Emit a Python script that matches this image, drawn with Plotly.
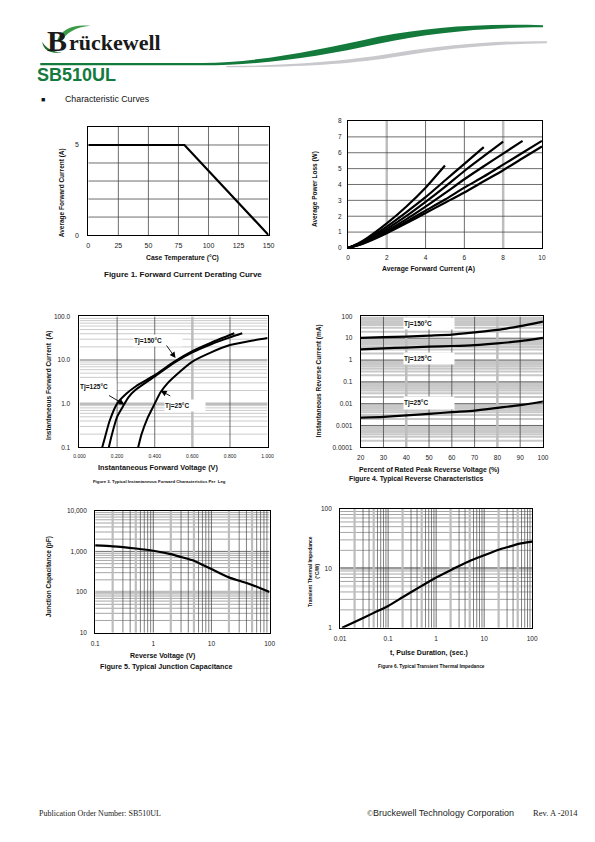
import plotly.graph_objects as go

W, H = 595, 842
SANS = "Liberation Sans, Arial, sans-serif"
SERIF = "Liberation Serif, Times New Roman, serif"

# ---------------- data ----------------
# Figure 1: derating
case_temp = [0, 80, 150]
avg_current = [5, 5, 0]

# Figure 2: power loss (6 curves)
pl_a_x = [0, 0.5, 1, 2, 3, 4, 5]
pl_a_y = [0, 0.27, 0.64, 1.55, 2.6, 3.8, 5.2]
pl_b_x = [0, 0.5, 1, 2, 3, 4, 5, 6, 7]
pl_b_y = [0, 0.24, 0.56, 1.35, 2.25, 3.2, 4.25, 5.3, 6.35]
pl_c_x = [0, 0.5, 1, 2, 3, 4, 5, 6, 7, 8]
pl_c_y = [0, 0.21, 0.5, 1.2, 2.0, 2.9, 3.85, 4.85, 5.78, 6.7]
pl_d_x = [0, 0.5, 1, 2, 3, 4, 5, 6, 7, 8, 9]
pl_d_y = [0, 0.19, 0.45, 1.08, 1.8, 2.6, 3.45, 4.33, 5.15, 5.95, 6.75]
pl_e_x = [0, 0.5, 1, 2, 3, 4, 5, 6, 7, 8, 9, 10]
pl_e_y = [0, 0.175, 0.41, 1.0, 1.65, 2.35, 3.05, 3.8, 4.5, 5.25, 6.0, 6.75]
pl_f_x = [0, 0.5, 1, 2, 3, 4, 5, 6, 7, 8, 9, 10]
pl_f_y = [0, 0.16, 0.38, 0.93, 1.55, 2.2, 2.85, 3.5, 4.2, 4.9, 5.65, 6.4]

# Figure 3: forward characteristics
vf_150 = [0.121, 0.14, 0.16, 0.2, 0.25, 0.3, 0.4, 0.5, 0.6, 0.7, 0.823]
if_150 = [0.1, 0.2, 0.4, 1.0, 1.7, 2.5, 4.5, 9, 16, 25, 41]
vf_125 = [0.156, 0.17, 0.2, 0.23, 0.26, 0.3, 0.4, 0.5, 0.6, 0.7, 0.8, 0.865]
if_125 = [0.1, 0.18, 0.5, 0.85, 1.4, 2.1, 4.2, 8.5, 15, 23, 33, 41]
vf_25 = [0.312, 0.33, 0.36, 0.4, 0.43, 0.47, 0.52, 0.6, 0.7, 0.8, 0.9, 1.0]
if_25 = [0.1, 0.2, 0.45, 1.0, 1.8, 3.0, 4.8, 9.2, 15, 22, 27, 32]

# Figure 4: reverse characteristics
pct_vr = [20, 30, 40, 50, 60, 70, 80, 90, 100]
ir_150 = [10.3, 11.1, 11.9, 13.2, 14.6, 18.5, 24, 36, 58]
ir_125 = [3.1, 3.45, 3.7, 4.1, 4.4, 4.85, 5.8, 7.3, 10.3]
ir_25 = [0.0023, 0.0025, 0.0029, 0.0034, 0.0041, 0.0048, 0.0064, 0.0085, 0.0126]

# Figure 5: junction capacitance
vr_cap = [0.1, 0.2, 0.3, 0.5, 1, 2, 3, 5, 7, 10, 20, 30, 50, 100]
cj_pf = [1400, 1330, 1270, 1180, 1040, 860, 730, 590, 470, 370, 230, 190, 150, 100]

# Figure 6: transient thermal impedance
t_pulse = [0.011, 0.02, 0.05, 0.1, 0.2, 0.5, 1, 2, 3, 5, 10, 20, 30, 50, 100]
z_th = [1.0, 1.25, 1.78, 2.33, 3.26, 5.06, 7.0, 9.3, 10.9, 13.2, 16.5, 20.5, 22.5, 25.5, 28]

# tick labels
f1_xt = [0, 25, 50, 75, 100, 125, 150]
f1_yt = ['0', '', '', '', '', '5', '']
f2_xt = [0, 2, 4, 6, 8, 10]
f2_yt = [0, 1, 2, 3, 4, 5, 6, 7, 8]
f3_xt = [0, 0.2, 0.4, 0.6, 0.8, 1.0]
f3_yv = [0.1, 1, 10, 100]
f3_yl = ['0.1', '1.0', '10.0', '100.0']
f4_xt = [20, 30, 40, 50, 60, 70, 80, 90, 100]
f4_yv = [0.0001, 0.001, 0.01, 0.1, 1, 10, 100]
f4_yl = ['0.0001', '0.001', '0.01', '0.1', '1', '10', '100']
f5_xv = [0.1, 1, 10, 100]
f5_xl = ['0.1', '1', '10', '100']
f5_yv = [10, 100, 1000, 10000]
f5_yl = ['10', '100', '1,000', '10,000']
f6_xv = [0.01, 0.1, 1, 10, 100]
f6_xl = ['0.01', '0.1', '1', '10', '100']
f6_yv = [1, 10, 100]
f6_yl = ['1', '10', '100']

# ---------------- helpers ----------------
DARK = '#4a4a4a'
GRAYT = '#bdbdbd'
MINOR = '#a8a8a8'


def dom_x(a, b):
    return [a / W, b / W]


def dom_y(top, bot):
    return [1 - bot / H, 1 - top / H]


def axis(dom, rng, typ='linear', vals=None, text=None, fs=7, standoff=3, anchor=None):
    d = dict(domain=dom, range=rng, type=typ, showgrid=False, zeroline=False,
             showline=True, mirror=True, linecolor='black', linewidth=1, ticks='',
             tickfont=dict(family=SANS, size=fs, color='#222'), anchor=anchor,
             fixedrange=True, ticklabelstandoff=standoff)
    if vals is not None:
        d['tickmode'] = 'array'
        d['tickvals'] = vals
        d['ticktext'] = text if text is not None else [str(v) for v in vals]
    return d


traces = []


def gl(axn, pos, lo, hi, color, width, vertical=True):
    X, Y = [], []
    for v in pos:
        if vertical:
            X += [v, v, None]
            Y += [lo, hi, None]
        else:
            X += [lo, hi, None]
            Y += [v, v, None]
    traces.append(go.Scatter(x=X, y=Y, mode='lines', line=dict(color=color, width=width),
                             xaxis='x' + axn, yaxis='y' + axn, hoverinfo='skip',
                             showlegend=False))


def curve(axn, x, y, w=2.2, spline=True):
    traces.append(go.Scatter(x=x, y=y, mode='lines',
                             line=dict(color='black', width=w,
                                       shape='spline' if spline else 'linear', smoothing=0.6),
                             xaxis='x' + axn, yaxis='y' + axn, hoverinfo='skip',
                             showlegend=False))


def minors(decades, ks=range(2, 10)):
    return [k * d for d in decades for k in ks]


# ---------------- gridlines ----------------
# Fig 1
gl('', [25, 50, 75, 100, 125], 0, 6, DARK, 0.8)
gl('', [1, 2, 3, 4, 5], 0, 150, DARK, 0.8, vertical=False)
# Fig 2
gl('2', [4, 6], 0, 8, DARK, 0.8)
gl('2', [2, 8], 0, 8, GRAYT, 2.5)
gl('2', [1, 2, 3, 4, 5, 6, 7], 0, 10, DARK, 0.8, vertical=False)
# Fig 3
gl('3', minors([0.1, 1, 10]), 0, 1, MINOR, 0.6, vertical=False)
gl('3', [10], 0, 1, DARK, 0.8, vertical=False)
gl('3', [1], 0, 1, GRAYT, 2.5, vertical=False)
gl('3', [0.2, 0.4, 0.8], 0.1, 100, DARK, 0.8)
gl('3', [0.6], 0.1, 100, GRAYT, 2.5)
# Fig 4
gl('4', minors([0.0001, 0.001, 0.01, 0.1, 1, 10]), 20, 100, '#c8c8c8', 2.0, vertical=False)
gl('4', [0.001, 0.01, 0.1, 1, 10], 20, 100, DARK, 0.8, vertical=False)
gl('4', [30, 50, 60, 70, 90], 0.0001, 100, DARK, 0.8)
gl('4', [40, 80], 0.0001, 100, GRAYT, 2.5)
# Fig 5
gl('5', minors([10, 100, 1000]), 0.1, 100, '#6a6a6a', 0.6, vertical=False)
gl('5', [1000], 0.1, 100, DARK, 0.8, vertical=False)
gl('5', [100], 0.1, 100, GRAYT, 2.5, vertical=False)
gl('5', minors([0.1, 1, 10], [3, 4, 6, 7, 8, 9]), 10, 10000, DARK, 0.7)
gl('5', [1, 10], 10, 10000, DARK, 0.8)
gl('5', minors([0.1, 1, 10], [2, 5]), 10, 10000, GRAYT, 2.2)
# Fig 6
gl('6', minors([1, 10]), 0.01, 100, '#6a6a6a', 0.6, vertical=False)
gl('6', [5], 0.01, 100, '#dddddd', 2.5, vertical=False)
gl('6', [10], 0.01, 100, '#9a9a9a', 2.5, vertical=False)
gl('6', minors([0.01, 0.1, 1, 10], [3, 4, 6, 7, 8, 9]), 1, 100, DARK, 0.7)
gl('6', [0.1, 1, 10], 1, 100, DARK, 0.8)
gl('6', minors([0.01, 0.1, 1, 10], [2, 5]), 1, 100, GRAYT, 2.2)

# ---------------- curves ----------------
curve('', case_temp, avg_current, w=2.2, spline=False)
for xx, yy in [(pl_a_x, pl_a_y), (pl_b_x, pl_b_y), (pl_c_x, pl_c_y),
               (pl_d_x, pl_d_y), (pl_e_x, pl_e_y), (pl_f_x, pl_f_y)]:
    curve('2', xx, yy, w=2.2)
curve('3', vf_150, if_150, w=2.0)
curve('3', vf_125, if_125, w=2.0)
curve('3', vf_25, if_25, w=2.0)
curve('4', pct_vr, ir_150, w=2.2)
curve('4', pct_vr, ir_125, w=2.2)
curve('4', pct_vr, ir_25, w=2.2)
curve('5', vr_cap, cj_pf, w=2.2)
curve('6', t_pulse, z_th, w=2.2)

fig = go.Figure(traces)

layout = dict(
    width=W, height=H, margin=dict(l=0, r=0, t=0, b=0),
    paper_bgcolor='white', plot_bgcolor='white', showlegend=False,
    xaxis=axis(dom_x(84, 268), [0, 150], vals=f1_xt, anchor='y', standoff=4),
    yaxis=axis(dom_y(124, 233), [0, 6], vals=[0, 1, 2, 3, 4, 5, 6], text=f1_yt, anchor='x', standoff=7),
    xaxis2=axis(dom_x(349, 547), [0, 10], vals=f2_xt, anchor='y2', fs=6.5, standoff=3),
    yaxis2=axis(dom_y(118, 246), [0, 8], vals=f2_yt, anchor='x2', fs=6.5, standoff=4),
    xaxis3=axis(dom_x(75, 267), [0, 1], vals=f3_xt, text=['%.3f' % v for v in f3_xt], anchor='y3', fs=5, standoff=4),
    yaxis3=axis(dom_y(315, 447), [-1, 2], typ='log', vals=f3_yv, text=f3_yl, anchor='x3', fs=6.5, standoff=7),
    xaxis4=axis(dom_x(362, 548), [20, 100], vals=f4_xt, anchor='y4', fs=6.5, standoff=4),
    yaxis4=axis(dom_y(315, 447), [-4, 2], typ='log', vals=f4_yv, text=f4_yl, anchor='x4', fs=6.5, standoff=6),
    xaxis5=axis(dom_x(91, 269), [-1, 2], typ='log', vals=f5_xv, text=f5_xl, anchor='y5', fs=6.5, standoff=4),
    yaxis5=axis(dom_y(511, 634), [1, 4], typ='log', vals=f5_yv, text=f5_yl, anchor='x5', fs=6.5, standoff=6),
    xaxis6=axis(dom_x(341, 537), [-2, 2], typ='log', vals=f6_xv, text=f6_xl, anchor='y6', fs=6.5, standoff=4),
    yaxis6=axis(dom_y(509, 629), [0, 2], typ='log', vals=f6_yv, text=f6_yl, anchor='x6', fs=6.5, standoff=6),
)
fig.update_layout(**layout)


# ---------------- text ----------------
def T(x, y, s, size, bold=False, family=SANS, angle=0, xanchor='center', color='#111', **kw):
    d = dict(x=x / W, y=1 - y / H, xref='paper', yref='paper',
             text=('<b>%s</b>' % s) if bold else s, showarrow=False,
             font=dict(family=family, size=size, color=color), textangle=angle,
             xanchor=xanchor, yanchor='middle', borderpad=0)
    d.update(kw)
    return d


def box(x, y, s, size, w, h):
    return T(x, y, s, size, bold=True, bgcolor='white', width=w, height=h, align='left')


def arrow(tx, ty, hx, hy):
    return dict(x=hx / W, y=1 - hy / H, xref='paper', yref='paper', ax=tx - hx, ay=ty - hy,
                text='', showarrow=True, arrowhead=2, arrowsize=1.3, arrowwidth=0.9,
                arrowcolor='black')


ann = [
    # header
    T(52, 37, 'B', 30, bold=True, family=SERIF, color='#1a1a1a'),
    T(63, 39, 'rückewell', 22, bold=True, family=SERIF, color='#1a1a1a', xanchor='left'),
    T(31, 72, 'SB510UL', 18, bold=True, color='#157a3e', xanchor='left'),
    T(35, 96, '■', 7, color='#111', xanchor='left'),
    T(59, 96, 'Characteristic Curves', 8.8, color='#111', xanchor='left'),
    # fig 1
    T(58, 190, 'Average Forward Current (A)', 6.5, bold=True, angle=-90),
    T(180, 256, 'Case Temperature (°C)', 6.8, bold=True),
    T(181, 273, 'Figure 1. Forward Current Derating Curve', 8, bold=True),
    # fig 2
    T(316, 187, 'Average Power Loss (W)', 6.5, bold=True, angle=-90),
    T(431, 267, 'Average Forward Current (A)', 6.8, bold=True),
    # fig 3
    T(44, 385, 'Instantaneous Forward Current  (A)', 6.5, bold=True, angle=-90),
    T(155, 467, 'Instantaneous Forward Voltage (V)', 7.3, bold=True),
    T(157, 482, 'Figure 3. Typical Instantaneous Forward Characteristics Per  Leg', 4.3, bold=True),
    box(155, 339, 'Tj=150°C', 6.5, 48, 11),
    box(94, 386, 'Tj=125°C', 6.5, 36, 12),
    box(183, 405, 'Tj=25°C', 6.5, 40, 11),
    arrow(163, 343, 173, 357),
    arrow(104, 394, 121, 404),
    arrow(169, 396, 158, 390),
    # fig 4
    T(319, 380, 'Instantaneous Reverse Current (mA)', 6.5, bold=True, angle=-90),
    T(432, 469.5, 'Percent of Rated Peak Reverse Voltage (%)', 6.9, bold=True),
    T(349, 478.5, 'Figure 4. Typical Reverse Characteristics', 6.9, bold=True, xanchor='left'),
    box(432, 322.5, 'Tj=150°C', 6.5, 50, 11),
    box(432, 357.5, 'Tj=125°C', 6.5, 50, 11),
    box(432, 402, 'Tj=25°C', 6.5, 50, 12),
    # fig 5
    T(44, 578, 'Junction Capacitance (pF)', 6.5, bold=True, angle=-90),
    T(160, 657, 'Reverse Voltage (V)', 7, bold=True),
    T(163, 668, 'Figure 5. Typical Junction Capacitance', 7.2, bold=True),
    # fig 6
    T(311, 572, 'Transient Thermal Impedance', 5, bold=True, angle=-90),
    T(318, 572, '(°C/W)', 5, bold=True, angle=-90),
    T(432, 654, 't, Pulse Duration, (sec.)', 7, bold=True),
    T(434, 668, 'Figure 6. Typical Transient Thermal Impedance', 4.8, bold=True),
    # footer
    T(33, 816, 'Publication Order Number: SB510UL', 8, family=SERIF, color='#222', xanchor='left'),
    T(367, 816, '©', 8, family=SERIF, color='#222', xanchor='left'),
    T(374, 816, 'Bruckewell Technology Corporation', 9, family=SANS, color='#222', xanchor='left'),
    T(585, 816, 'Rev. A -2014', 8.5, family=SERIF, color='#222', xanchor='right'),
]
fig.update_layout(annotations=ann)


# ---------------- header graphics ----------------
def P(x, y):
    return '%.5f,%.5f' % (x / W, 1 - y / H)


def path(cmds):
    out = []
    for c in cmds:
        if isinstance(c, str):
            out.append(c)
        else:
            out.append(P(*c))
    return ' '.join(out)


green_swoosh = path(['M', (35, 59.4), 'L', (200, 59.4), 'C', (260, 59), (320, 46), (380, 33),
                     'C', (430, 24), (480, 19.5), (548, 21.5), 'L', (548, 23.5),
                     'C', (480, 24), (430, 30), (380, 40), 'C', (320, 53), (260, 61.8), (200, 61.8),
                     'L', (35, 61.8), 'Z'])
gray_swoosh = path(['M', (225, 62.6), 'C', (300, 62), (350, 57), (400, 49), 'C', (450, 41), (500, 37),
                    (552, 37.5), 'L', (552, 39.5), 'C', (500, 40), (450, 45), (400, 53),
                    'C', (350, 61), (300, 63.8), (225, 63.8), 'Z'])
leaf_top = path(['M', (52, 37), 'C', (56, 26), (68, 20), (86, 22), 'C', (71, 23.5), (61, 29), (57, 38), 'Z'])
leaf_bot = path(['M', (37, 38), 'C', (38, 47), (46, 50), (57, 49), 'C', (48, 48), (41, 45), (37, 38), 'Z'])

shapes = [
    dict(type='path', path=gray_swoosh, xref='paper', yref='paper', fillcolor='#c9c9cd', line=dict(width=0), layer='below'),
    dict(type='path', path=green_swoosh, xref='paper', yref='paper', fillcolor='#137a3c', line=dict(width=0), layer='below'),
    dict(type='path', path=leaf_top, xref='paper', yref='paper', fillcolor='#3a9a48', line=dict(width=0), layer='below'),
    dict(type='path', path=leaf_bot, xref='paper', yref='paper', fillcolor='#1d6b30', line=dict(width=0), layer='below'),
]
fig.update_layout(shapes=shapes)

fig.write_html('out.html', config={'displayModeBar': False, 'staticPlot': True},
               post_script="document.body.style.margin='0';document.body.style.overflow='hidden';")
